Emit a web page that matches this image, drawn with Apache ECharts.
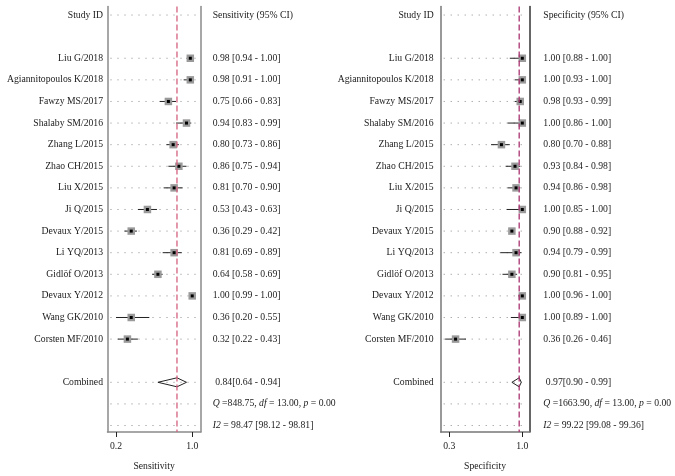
<!DOCTYPE html>
<html>
<head>
<meta charset="utf-8">
<script src="https://cdn.jsdelivr.net/npm/echarts@6/dist/echarts.min.js"></script>
<style>html,body{margin:0;padding:0;background:#fff}#c{width:675px;height:476px}</style>
</head>
<body>
<div id="c"></div>
<script>
// ---- data ----
const studies = ['Liu G/2018','Agiannitopoulos K/2018','Fawzy MS/2017','Shalaby SM/2016','Zhang L/2015','Zhao CH/2015','Liu X/2015','Ji Q/2015','Devaux Y/2015','Li YQ/2013','Gidlöf O/2013','Devaux Y/2012','Wang GK/2010','Corsten MF/2010'];
const sens   = [0.98,0.98,0.75,0.94,0.80,0.86,0.81,0.53,0.36,0.81,0.64,1.00,0.36,0.32];
const sensLo = [0.94,0.91,0.66,0.83,0.73,0.75,0.70,0.43,0.29,0.69,0.58,0.99,0.20,0.22];
const sensHi = [1.00,1.00,0.83,0.99,0.86,0.94,0.90,0.63,0.42,0.89,0.69,1.00,0.55,0.43];
const spec   = [1.00,1.00,0.98,1.00,0.80,0.93,0.94,1.00,0.90,0.94,0.90,1.00,1.00,0.36];
const specLo = [0.88,0.93,0.93,0.86,0.70,0.84,0.86,0.85,0.88,0.79,0.81,0.96,0.89,0.26];
const specHi = [1.00,1.00,0.99,1.00,0.88,0.98,0.98,1.00,0.92,0.99,0.95,1.00,1.00,0.46];
const sensPooled = [0.84, 0.64, 0.94];
const specPooled = [0.97, 0.90, 0.99];
const sensQ = ['848.75','13.00','0.00'];
const specQ = ['1663.90','13.00','0.00'];
const sensI2 = ['98.47','98.12','98.81'];
const specI2 = ['99.22','99.08','99.36'];
const sensTicks = [0.2, 1.0];
const specTicks = [0.3, 1.0];

const FONT = 'Liberation Serif';
const FS = 9.7;

function fmt(v){ return v.toFixed(2); }

function buildRows(est, lo, hi, pooled, q, i2){
  const rows = [];
  rows.push({y:0, label:'Study ID', text:null, kind:'header'});
  studies.forEach((s,i)=>rows.push({y:i+2, label:s, est:est[i], lo:lo[i], hi:hi[i],
    text: fmt(est[i])+' ['+fmt(lo[i])+' - '+fmt(hi[i])+']', kind:'study'}));
  rows.push({y:17, label:'Combined', est:pooled[0], lo:pooled[1], hi:pooled[2],
    text: fmt(pooled[0])+'['+fmt(pooled[1])+' - '+fmt(pooled[2])+']', kind:'pooled'});
  rows.push({y:18, label:'', kind:'q',
    text:'{i|Q} ='+q[0]+', {i|df} = '+q[1]+', {i|p} = '+q[2]});
  rows.push({y:19, label:'', kind:'i2',
    text:'{i|I2} = '+i2[0]+' ['+i2[1]+' - '+i2[2]+']'});
  return rows;
}

function makeSeries(gi, rows, xmin, xmax, headerText, labelGap, textGap, refColor, pooledEst){
  const custom = {
    type:'custom', xAxisIndex:gi, yAxisIndex:gi*2, clip:false, silent:true,
    data: rows.map(r=>[r.est!=null?r.est:xmin, r.y]),
    encode:{x:0,y:1},
    z: 3,
    renderItem:function(params, api){
      const r = rows[params.dataIndex];
      const y = r.y;
      const pL = api.coord([xmin, y]);
      const pR = api.coord([xmax, y]);
      const children = [];
      children.push({type:'line', shape:{x1:pL[0]+3, y1:pL[1], x2:pR[0]-2, y2:pR[1]},
        style:{stroke:'#8a8a8a', lineWidth:1, lineDash:[1,6]}, z2:0});
      if (r.label){
        children.push({type:'text', x:pL[0]-labelGap, y:pL[1],
          style:{text:r.label, fontFamily:FONT, fontSize:FS, fill:'#1a1a1a', align:'right', verticalAlign:'middle'}});
      }
      const rt = r.kind==='header' ? headerText : r.text;
      if (rt){
        children.push({type:'text', x:pR[0]+textGap+(r.kind==='pooled'?2.5:0), y:pR[1],
          style:{text:rt, fontFamily:FONT, fontSize:FS, fill:'#1a1a1a', align:'left', verticalAlign:'middle',
            rich:{i:{fontFamily:FONT, fontStyle:'italic', fontSize:FS, fill:'#1a1a1a'}}}});
      }
      if (r.kind==='study'){
        const pe = api.coord([r.est, y]);
        const plo = api.coord([r.lo, y]);
        const phi = api.coord([r.hi, y]);
        children.push({type:'line', shape:{x1:plo[0], y1:pe[1], x2:phi[0], y2:pe[1]},
          style:{stroke:'#222', lineWidth:1}, z2:2});
        const s = 7.5;
        children.push({type:'rect', shape:{x:pe[0]-s/2, y:pe[1]-s/2, width:s, height:s},
          style:{fill:'#9a9a9a'}, z2:3});
        const b = 3;
        children.push({type:'rect', shape:{x:pe[0]-b/2, y:pe[1]-b/2, width:b, height:b},
          style:{fill:'#000'}, z2:4});
      }
      if (r.kind==='pooled'){
        const pe = api.coord([r.est, y]);
        const plo = api.coord([r.lo, y]);
        const phi = api.coord([r.hi, y]);
        const h = 4.5;
        children.push({type:'polygon', shape:{points:[[plo[0],pe[1]],[pe[0],pe[1]-h],[phi[0],pe[1]],[pe[0],pe[1]+h]]},
          style:{fill:'rgba(255,255,255,0)', stroke:'#222', lineWidth:1}, z2:5});
      }
      return {type:'group', children:children};
    }
  };
  const ref = {
    type:'line', xAxisIndex:gi, yAxisIndex:gi*2, silent:true, symbol:'none', z:4,
    data:[[pooledEst,-0.4],[pooledEst,19.3]],
    lineStyle:{color:refColor, width:1.3, type:[6,3]}
  };
  return [custom, ref];
}

const sensRows = buildRows(sens, sensLo, sensHi, sensPooled, sensQ, sensI2);
const specRows = buildRows(spec, specLo, specHi, specPooled, specQ, specI2);

const SX = [0.111, 1.089];
const PX = [0.2175, 1.067];

function xAxis(gi, range, ticks, name, color){
  return {
    type:'value', gridIndex:gi, min:range[0], max:range[1], name:name,
    nameLocation:'middle', nameGap:29,
    nameTextStyle:{fontFamily:FONT, fontSize:FS, color:'#1a1a1a'},
    axisLine:{show:true, onZero:false, lineStyle:{color:color, width:1.5}},
    axisTick:{show:true, length:5, customValues:ticks, lineStyle:{color:'#222', width:1}},
    axisLabel:{show:true, customValues:ticks, margin:9, fontFamily:FONT, fontSize:FS, color:'#1a1a1a',
      formatter:v=>v.toFixed(1)},
    splitLine:{show:false}
  };
}
function yAxes(gi, lcolor, rcolor){
  return [
    {type:'value', gridIndex:gi, min:-0.4, max:19.3, inverse:true, position:'left',
      axisLine:{show:true, onZero:false, lineStyle:{color:lcolor, width:1.5}},
      axisTick:{show:false}, axisLabel:{show:false}, splitLine:{show:false}},
    {type:'value', gridIndex:gi, min:-0.4, max:19.3, inverse:true, position:'right',
      axisLine:{show:true, onZero:false, lineStyle:{color:rcolor, width:1.5}},
      axisTick:{show:false}, axisLabel:{show:false}, splitLine:{show:false}}
  ];
}

const option = {
  animation:false,
  backgroundColor:'#fff',
  grid:[
    {left:107.5, right:675-200.7, top:6.4, bottom:44},
    {left:440.7, right:675-529.3, top:6.4, bottom:44}
  ],
  xAxis:[xAxis(0, SX, sensTicks, 'Sensitivity', '#8a8a8a'), xAxis(1, PX, specTicks, 'Specificity', '#777')],
  yAxis:[].concat(yAxes(0,'#8a8a8a','#8a8a8a'), yAxes(1,'#777','#333')),
  series:[].concat(
    makeSeries(0, sensRows, SX[0], SX[1], 'Sensitivity (95% CI)', 4.5, 12, '#d4607f', sensPooled[0]),
    makeSeries(1, specRows, PX[0], PX[1], 'Specificity (95% CI)', 7, 14, '#a8326f', specPooled[0])
  )
};
const chart = echarts.init(document.getElementById('c'), null, {renderer:'canvas'});
chart.setOption(option);
</script>
</body>
</html>
